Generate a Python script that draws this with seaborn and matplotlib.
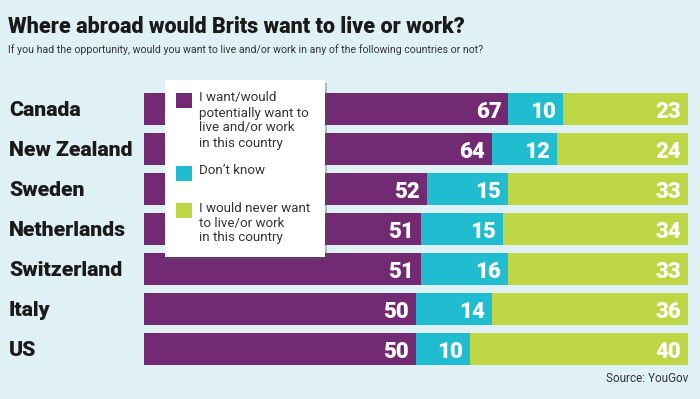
import matplotlib
matplotlib.use("Agg")
import matplotlib.pyplot as plt
import matplotlib.patheffects as pe
from matplotlib.patches import Rectangle
from matplotlib.transforms import offset_copy
import seaborn as sns
import pandas as pd

countries = ["Canada", "New Zealand", "Sweden", "Netherlands", "Switzerland", "Italy", "US"]
want = [67, 64, 52, 51, 51, 50, 50]
dont_know = [10, 12, 15, 15, 16, 14, 10]
never = [23, 24, 33, 34, 33, 36, 40]
series_labels = [
    "I want/would\npotentially want to\nlive and/or work\nin this country",
    "Don\u2019t know",
    "I would never want\nto live/or work\nin this country",
]
title = "Where abroad would Brits want to live or work?"
subtitle = "If you had the opportunity, would you want to live and/or work in any of the following countries or not?"
source = "Source: YouGov"

colors = ["#722A73", "#1FBDCF", "#BED643"]
bg = "#E0F1F6"

sns.set_theme(style="white")
plt.rcParams['font.family'] = ['Roboto', 'DejaVu Sans']

df = pd.DataFrame({"country": countries, "want": want, "dk": dont_know, "never": never})
df["c1"] = df["want"]
df["c2"] = df["want"] + df["dk"]
df["c3"] = df["want"] + df["dk"] + df["never"]

W, H = 700, 399
fig = plt.figure(figsize=(7, 3.99), dpi=100, facecolor=bg)
ax = fig.add_axes([144 / W, 1 - 369 / H, 544 / W, 280 / H])
ax.set_facecolor(bg)

for col, c in zip(["c3", "c2", "c1"], colors[::-1]):
    sns.barplot(data=df, x=col, y="country", color=c, orient="h", width=0.8,
                saturation=1, ax=ax, order=countries, linewidth=0)

ax.set_xlim(0, 100)
ax.set_ylim(6.5, -0.5)
for s in ax.spines.values():
    s.set_visible(False)
ax.set_xticks([])
ax.set_xlabel("")
ax.set_ylabel("")
ax.tick_params(axis="y", length=0, pad=135 * 72 / 100)
for lab in ax.get_yticklabels():
    lab.set_ha("left")
    lab.set_fontweight("heavy")
    lab.set_fontsize(15.3)
    lab.set_color("#1a1a1a")

# value labels
tr = offset_copy(ax.transData, fig=fig, x=-7, y=0, units="dots")
for i, row in df.iterrows():
    for end, val in [(row.c1, row.want), (row.c2, row.dk), (row.c3, row.never)]:
        ax.text(end, i, f"{val}", transform=tr, ha="right", va="center_baseline",
                color="white", fontsize=16, fontweight="black")

# legend box
lx0, lx1, ly0, ly1 = 165, 325, 80, 257
box = Rectangle((lx0 / W, 1 - ly1 / H), (lx1 - lx0) / W, (ly1 - ly0) / H,
                transform=fig.transFigure, facecolor="white", edgecolor="none", zorder=5,
                path_effects=[pe.SimplePatchShadow(offset=(1.5, -2), shadow_rgbFace="#555555", alpha=0.35),
                              pe.Normal()])
fig.add_artist(box)
entries_y = [93, 166, 203]
for c, lab, yy in zip(colors, series_labels, entries_y):
    fig.add_artist(Rectangle((176 / W, 1 - (yy + 15) / H), 16 / W, 15 / H,
                             transform=fig.transFigure, facecolor=c, edgecolor="none", zorder=6))
    fig.text(199 / W, 1 - (yy - 1.5) / H, lab, ha="left", va="top", fontsize=9.6,
             color="#333333", linespacing=1.2, zorder=7)

fig.text(8 / W, 1 - 33 / H, title, ha="left", va="baseline", fontsize=15.5,
         fontweight="heavy", color="#1a1a1a")
fig.text(8 / W, 1 - 53 / H, subtitle, ha="left", va="baseline", fontsize=7.6,
         color="#333333")
fig.text(688 / W, 1 - 382 / H, source, ha="right", va="baseline", fontsize=8.5,
         color="#333333")

fig.savefig("out.png", dpi=100, facecolor=bg)
